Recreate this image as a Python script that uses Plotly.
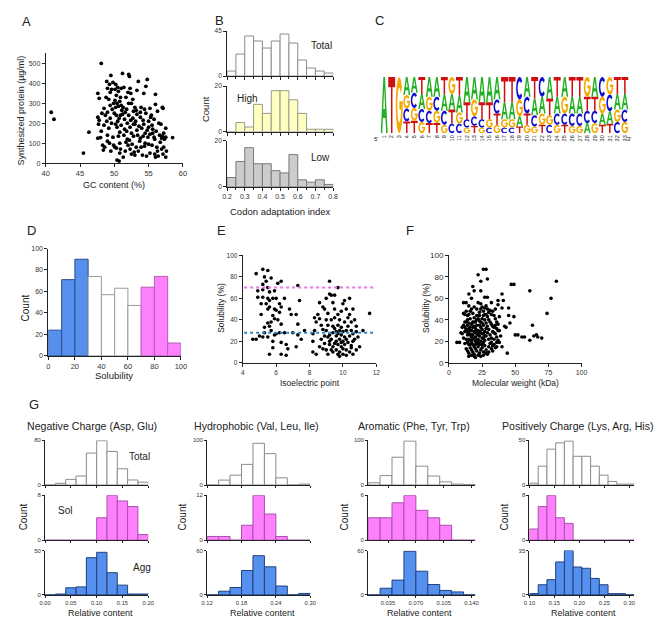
import numpy as np
import plotly.graph_objects as go

W, H = 662, 618
FONT = "Liberation Sans, Arial, sans-serif"

# ---------------- DATA ----------------
# Panel A: GC content (%) vs synthesized protein (ug/ml)
A_pts = [(40.8,255),(41.2,220),(45.5,50),(46.3,155),(48.1,500),
(49.5,440),(51.2,450),(52.1,445),(52.2,435),(54.8,420),(53.5,410),(54.6,385),(48.9,410),(49.8,405),(50.2,395),
(49.3,395),(50.5,380),(49,375),(49.6,370),(50.1,370),(51,375),(51.4,380),(52.3,375),(53.3,365),(50.6,360),
(49.4,355),(47.6,350),(52,355),(52.4,350),(54.3,350),(56,345),(48.8,330),(49.2,320),(47.8,325),(50.1,315),
(50.4,300),(50.8,310),(51,290),(50.6,285),(51.3,280),(50.2,280),(49.7,270),(48.5,275),(52.5,300),(53,280),
(52.8,260),(53.2,265),(51.8,270),(51.6,255),(53.9,280),(54.4,270),(55.2,275),(56,295),(57,280),(57.1,275),
(56.3,260),(48.2,250),(48.7,240),(49,255),(50,250),(50.3,240),(51.2,245),(52.1,240),(53.8,230),(54.6,250),
(55.3,230),(55.8,220),(47.6,230),(47.8,215),(48.9,210),(49.4,225),(50.7,225),(51.5,220),(52.4,215),(53.1,210),
(52.7,225),(54.2,215),(55,210),(47.7,195),(48.5,190),(49.6,200),(50.2,195),(51,190),(51.9,200),(53,195),
(53.6,185),(54.3,195),(55.5,190),(56.5,200),(56.8,195),(57.5,175),(49.2,175),(50.4,180),(51.5,170),(52.3,180),
(54,175),(54.8,165),(55.6,170),(56.1,160),(57.2,150),(50.8,155),(51.8,160),(52.5,150),(53.3,165),(54.5,150),
(55.2,145),(56.6,140),(57,135),(57.5,130),(58.5,128),(47.6,125),(48,128),(49,140),(49.8,130),(50.6,135),
(51.4,140),(52.8,135),(53.8,125),(54.2,135),(55.8,130),(56.9,125),(57.3,120),(48.3,90),(48.6,80),(49.3,100),
(49.9,90),(50.3,75),(50.8,100),(51.7,105),(52,90),(52.6,95),(53.2,80),(53.7,110),(54.5,100),(55,95),
(55.5,90),(56.2,80),(56.9,70),(57.2,80),(57.6,60),(48.4,65),(49.5,60),(50.1,80),(50.9,70),(51.6,60),
(52.3,70),(52.9,55),(53.5,60),(54.1,40),(54.7,35),(55.9,45),(56.4,35),(57.1,45),(57.5,30),(56.3,60),
(50.4,15),(50.7,10),(51.3,30),(52.5,45),(53,40),(55.2,50),(56,30),(51.9,120),(52.2,115),(53.4,140),
(50.5,210),(51.1,265),(49.9,300),(50.9,330),(52.7,320),(53.8,255),(55.4,240),(55.9,120),(56.7,105),(54.4,85),
(53.9,80),(50.8,50),(49,110),(48.1,160),(55,180),(54.9,130),(53.3,245),(52.1,300),(51.7,330),(50.3,340),
(49.4,290),(50.9,240),(52.8,195),(55.6,150)]
A_gc = [p[0] for p in A_pts]
A_protein = [p[1] for p in A_pts]

# Panel B: codon adaptation index histograms
B_edges = [0.20,0.25,0.30,0.35,0.40,0.45,0.50,0.55,0.60,0.65,0.70,0.75,0.80]
B_total = [5,22,40,35,28,35,42,33,16,8,5,3]
B_high  = [0,4,2,12,8,18,18,14,8,1,1,1]
B_low   = [4,11,17,10,10,7,6,14,3,2,3,1]

# Panel C: sequence logo, letter frequencies per position
C_positions = list(range(1, 34))
C_freq_A = [1,0,0,.32,.28,.27,.35,.35,.29,.28,.30,.45,.40,.45,.45,.40,.30,.30,.18,.35,.30,.30,.38,.30,.35,.30,.30,.18,.35,.20,.22,.28,.28]
C_freq_C = [0,0,0,.23,.27,.23,.22,.25,.25,.17,.17,.15,.17,.15,.10,.25,.10,.10,.40,.30,.20,.35,.15,.20,.20,.22,.22,.22,.22,.35,.30,.20,.22]
C_freq_G = [0,0,1,.24,.23,.20,.25,.22,.15,.30,.20,.10,.30,.10,.15,.15,.15,.15,.30,.15,.12,.20,.17,.15,.30,.13,.13,.35,.18,.30,.31,.22,.20]
C_freq_T = [0,1,0,.21,.22,.30,.18,.18,.31,.25,.33,.30,.13,.30,.30,.20,.45,.45,.12,.20,.38,.15,.30,.35,.15,.35,.35,.25,.25,.15,.17,.30,.30]

# Panel D: solubility histogram
D_edges = [0,10,20,30,40,50,60,70,80,90,100]
D_counts = [24,71,90,74,57,63,47,64,74,12]
D_group = ["agg","agg","agg","mid","mid","mid","mid","sol","sol","sol"]

# Panel E: isoelectric point vs solubility
E_pts = [(4.8,83),(5.2,87),(5.5,86),(5.3,80),(5.4,76),(5.2,73),(5.5,70),(5.7,79),(4.9,67),(5.2,68),(5.6,66),
(5.9,67),(6.3,76),(6.1,74),(4.9,61),(5.2,61),(5.5,60),(5.6,58),(5.8,60),(6.2,55),(5.1,45),(5.4,55),(5.5,50),
(5.6,52),(5.9,50),(6.0,49),(6.3,52),(5.8,44),(5.9,41),(5.7,38),(6.1,40),(5.5,37),(6.3,36),(5.6,34),(5.7,30),
(5.3,28),(5.0,25),(5.2,24),(4.6,22),(4.8,22),(5.9,26),(6.0,27),(6.2,28),(6.5,28),(5.5,24),(5.8,20),(6.3,19),
(5.8,14),(6.6,17),(5.6,8),(6.3,8),(6.6,7),(6.5,60),(6.8,50),(6.9,45),(7.3,72),(7.4,58),(7.2,45),(7.3,36),
(7.3,26),(7.5,22),(7.2,15),(7.0,28),(6.7,13),(7.7,30),(6.2,47),(5.3,33),(6.0,60),(5.1,55),
(8.2,20),(8.2,27),(8.4,38),(8.3,42),(8.5,45),(8.6,41),(8.7,35),(8.2,10),(8.4,8),(8.6,15),(8.8,13),(8.9,25),
(8.3,30),(8.6,56),(8.9,50),(9.0,60),(9.2,64),(9.3,63),(9.2,76),(9.4,56),(9.5,50),(9.1,46),(9.3,40),(9.5,42),
(9.7,45),(9.9,48),(10.0,55),(10.1,58),(10.2,50),(10.4,45),(10.6,50),(10.1,38),(9.7,35),(9.8,30),(9.0,30),
(9.1,35),(9.4,28),(9.6,25),(9.8,22),(10.0,20),(10.2,30),(10.4,25),(10.6,27),(10.7,22),(10.8,29),(9.2,20),
(9.4,15),(9.6,12),(9.8,10),(10.0,8),(10.2,12),(10.4,10),(10.5,16),(10.6,8),(9.0,12),(9.1,8),(8.9,18),
(9.3,22),(9.5,18),(9.7,17),(9.9,15),(10.1,17),(10.3,19),(10.5,14),(9.5,32),(9.9,33),(10.3,34),(10.5,38),
(9.2,26),(9.9,26),(10.1,24),(9.6,20),(9.7,8),(9.8,6),(10.2,7),(9.4,10),(10.0,13),(10.6,20),(10.8,34),
(11.2,30),(11.6,46),(10.4,60),(9.7,70),(9.5,63),(8.8,52),(9.0,40),(9.8,40),(10.3,42),(10.7,40),(9.3,12),
(9.9,19),(10.2,22),(10.0,29),(9.6,29),(9.1,24),(8.7,22),(10.9,24),(11.0,15),(10.8,12),(10.5,30),(9.4,34),
(9.7,27),(9.2,17),(8.8,31)]
E_pi = [p[0] for p in E_pts]
E_sol = [p[1] for p in E_pts]
E_sol_threshold = 70
E_agg_threshold = 28

# Panel F: molecular weight vs solubility
F_pts = [(6,19),(8,19),(26,87),(28,87),(22,82),(29,78),(24,76),(18,71),(19,67),(24,67),(47,73),(49,73),(61,67),
(81,76),(15,64),(17,60),(27,61),(29,61),(40,64),(37,58),(41,58),(77,60),(11,56),(13,56),(22,56),(24,55),
(32,56),(15,53),(37,54),(45,51),(35,50),(40,51),(74,46),(11,46),(27,45),(32,45),(45,44),(49,43),(46,37),
(42,34),(63,35),(50,26),(66,26),(70,23),(61,21),(64,25),(67,24),(44,9),(43,33),(38,19),(40,15),(52,26),
(55,24),(57,24),
(10,27),(12,29),(13,31),(14,26),(15,28),(16,30),(11,35),(12,38),(14,40),(15,37),(16,41),(17,36),(18,33),
(19,29),(20,32),(21,27),(22,30),(23,35),(24,38),(25,41),(26,44),(27,40),(28,37),(29,43),(30,47),(31,49),
(33,48),(34,44),(35,41),(36,38),(37,36),(38,43),(13,22),(14,19),(15,17),(16,21),(17,24),(18,26),(19,23),
(20,20),(21,18),(22,22),(23,25),(24,28),(25,23),(26,19),(27,21),(28,25),(29,28),(30,31),(31,26),(32,23),
(33,29),(34,33),(35,27),(36,24),(37,30),(13,13),(14,11),(15,9),(16,14),(17,12),(18,10),(19,8),(20,13),
(21,11),(22,15),(23,9),(24,12),(25,14),(26,10),(27,16),(28,12),(29,8),(30,15),(31,18),(32,13),(33,11),
(34,17),(35,14),(36,19),(37,21),(15,6),(17,7),(19,6),(20,5),(22,7),(24,6),(26,7),(28,9),(30,10),(11,23),
(12,18),(10,33),(9,28),(12,45),(13,48),(14,44),(16,48),(18,46),(19,42),(20,38),(21,44),(22,41),(23,47),
(24,50),(25,52),(26,48),(27,51),(28,53),(29,50),(30,40),(31,38),(32,36),(33,34),(34,28),(35,35),(36,32),
(20,24),(21,30),(22,26),(23,29),(24,33),(25,31),(26,35),(27,29),(28,32),(29,34),(16,26),(17,30),(18,38),
(19,34),(20,28),(21,35),(15,32),(14,35),(13,38),(12,33),(16,33),(17,19),(18,17),(19,15),(20,17),(21,21),
(22,19),(23,17),(24,20),(25,17),(26,23),(27,25),(16,17),(15,22),(18,22),(25,27),(26,27),(14,29),(17,26),
(19,38),(23,39),(21,40),(15,45),(17,50),(19,52),(21,50),(23,44),(25,37),(28,45),(30,22),(32,19),(34,22),
(38,30),(39,25),(36,15),(33,16)]
F_mw = [p[0] for p in F_pts]
F_sol = [p[1] for p in F_pts]

# Panel G: amino-acid content histograms (Total, Sol, Agg)
G_titles = ["Negative Charge (Asp, Glu)", "Hydrophobic (Val, Leu, Ile)",
            "Aromatic (Phe, Tyr, Trp)", "Positively Charge (Lys, Arg, His)"]
G_edges = [
    [0.00,0.02,0.04,0.06,0.08,0.10,0.12,0.14,0.16,0.18,0.20],
    [0.12,0.14,0.16,0.18,0.20,0.22,0.24,0.26,0.28,0.30],
    [0.010,0.025,0.040,0.055,0.070,0.085,0.100,0.115,0.130,0.145],
    [0.1000,0.1175,0.1350,0.1525,0.1700,0.1875,0.2050,0.2225,0.2400,0.2575,0.2750,0.2925,0.3100],
]
G_total = [[0,3,10,16,57,79,60,29,9,5],
           [0,11,22,46,93,70,16,0,2],
           [5,21,62,98,42,20,7,2,1],
           [2,21,40,47,49,32,32,21,11,4,1,1]]
G_sol = [[0,0,0,0,0,4,8,7,6,1],
         [1,1,0,4,12,7,1,0,0],
         [3,3,5,6,4,3,2,0,0],
         [2,6,8,4,3,0,0,0,0,0,0,0]]
G_agg = [[0,1,8,9,42,48,25,11,1,1],
         [0,5,10,33,53,38,12,0,2],
         [0,9,20,59,32,14,6,4,0],
         [1,8,12,26,35,22,21,13,8,1,1,0]]
G_xrange = [[0.0,0.2],[0.12,0.30],[0.010,0.145],[0.10,0.31]]
G_xticks = [[0.00,0.05,0.10,0.15,0.20],[0.12,0.18,0.24,0.30],[0.035,0.070,0.105,0.140],[0.10,0.15,0.20,0.25,0.30]]
G_xticktext = [["0.00","0.05","0.10","0.15","0.20"],["0.12","0.18","0.24","0.30"],
               ["0.035","0.070","0.105","0.140"],["0.10","0.15","0.20","0.25","0.30"]]
G_ymax = [[80,8,50],[100,12,60],[100,6,60],[50,8,35]]

# ---------------- HELPERS ----------------
fig = go.Figure()
layout = dict(width=W, height=H, margin=dict(l=0, r=0, t=0, b=0),
              paper_bgcolor="white", plot_bgcolor="white", showlegend=False,
              barmode="overlay", font=dict(family=FONT, color="#222"))
annotations = []
shapes = []

def dxp(a, b):
    return [a / W, b / W]

def dyp(top, bottom):
    return [1 - bottom / H, 1 - top / H]

def sfx(n):
    return "" if n == 1 else str(n)

def axes(n, xd, yd, xr, yr, xt, xtt, yt, ytt, xlab=True, ylab=True, xfs=7, yfs=7, xminor=None, tl=3):
    common = dict(showline=True, linecolor="#222", linewidth=1, ticks="outside", ticklen=tl,
                  tickwidth=1, tickcolor="#222", showgrid=False, zeroline=False, fixedrange=True)
    xa = dict(common, domain=dxp(*xd), range=xr, anchor="y" + sfx(n), tickmode="array",
              tickvals=xt, ticktext=xtt, showticklabels=xlab, tickfont=dict(size=xfs, family=FONT, color="#333"))
    if xminor:
        xa["minor"] = dict(ticks="outside", ticklen=2, dtick=xminor, tickcolor="#222")
    ya = dict(common, domain=dyp(*yd), range=yr, anchor="x" + sfx(n), tickmode="array",
              tickvals=yt, ticktext=ytt, showticklabels=ylab, tickfont=dict(size=yfs, family=FONT, color="#333"))
    layout["xaxis" + sfx(n)] = xa
    layout["yaxis" + sfx(n)] = ya

def ann(text, x, y, size, angle=0, xanchor="center", yanchor="middle", color="#222"):
    annotations.append(dict(text=text, x=x / W, y=1 - y / H, xref="paper", yref="paper",
                            showarrow=False, font=dict(size=size, family=FONT, color=color),
                            textangle=angle, xanchor=xanchor, yanchor=yanchor))

def bars(n, edges, counts, fill, edge):
    centers = [(edges[i] + edges[i + 1]) / 2 for i in range(len(counts))]
    widths = [edges[i + 1] - edges[i] for i in range(len(counts))]
    fig.add_trace(go.Bar(x=centers, y=counts, width=widths,
                         marker=dict(color=fill, line=dict(color=edge, width=1)),
                         xaxis="x" + sfx(n), yaxis="y" + sfx(n), hoverinfo="skip"))

def scatter(n, xs, ys, size=3.6):
    fig.add_trace(go.Scatter(x=xs, y=ys, mode="markers",
                             marker=dict(color="black", size=size, line=dict(width=0)),
                             xaxis="x" + sfx(n), yaxis="y" + sfx(n), hoverinfo="skip"))

# ---------------- PANEL A ----------------
axes(1, (32.3, 172), (41.7, 153.3), [40, 60], [0, 552],
     [40, 45, 50, 55, 60], ["40", "45", "50", "55", "60"],
     [0, 100, 200, 300, 400, 500], ["0", "100", "200", "300", "400", "500"], xfs=7.5, yfs=7)
scatter(1, A_gc, A_protein, 3.8)
ann("A", 13, 10, 13)
ann("Synthesized protein (µg/ml)", 7, 100, 9, angle=-90)
ann("GC content (%)", 102, 176, 9)

# ---------------- PANEL B ----------------
B_xt = [0.2, 0.3, 0.4, 0.5, 0.6, 0.7, 0.8]
B_xtt = ["0.2", "0.3", "0.4", "0.5", "0.6", "0.7", "0.8"]
axes(2, (217, 325), (19.3, 65), [0.2, 0.8], [0, 45], B_xt, B_xtt, [0, 45], ["0", "45"], xlab=False, yfs=6.5, xminor=0.05)
axes(3, (217, 325), (75.3, 121.3), [0.2, 0.8], [0, 20], B_xt, B_xtt, [0, 20], ["0", "20"], xlab=False, yfs=6.5, xminor=0.05)
axes(4, (217, 325), (130.7, 177.3), [0.2, 0.8], [0, 20], B_xt, B_xtt, [0, 20], ["0", "20"], xfs=7, yfs=6.5, xminor=0.05)
bars(2, B_edges, B_total, "white", "#8c8c8c")
bars(3, B_edges, B_high, "#ffffc2", "#9a9a8a")
bars(4, B_edges, B_low, "#cccccc", "#7a7a7a")
ann("B", 209, 9, 13)
ann("Total", 313, 34, 10)
ann("High", 238, 88, 10)
ann("Low", 312, 148, 10)
ann("Count", 195, 98, 9.5, angle=-90)
ann("Codon adaptation index", 271, 202, 9.5)

# ---------------- PANEL C (sequence logo) ----------------
def arc(rx, ry, a0, a1, npts):
    t = np.radians(np.linspace(a0, a1, npts))
    return [(0.5 + rx * np.cos(v), 0.5 + ry * np.sin(v)) for v in t]

GLYPHS = {
    "T": [[(0, 1), (1, 1), (1, 0.82), (0.61, 0.82), (0.61, 0), (0.39, 0), (0.39, 0.82), (0, 0.82)]],
    "A": [[(0, 0), (0.38, 1), (0.62, 1), (1, 0), (0.78, 0), (0.685, 0.27), (0.315, 0.27), (0.22, 0)],
          [(0.37, 0.43), (0.63, 0.43), (0.5, 0.80)]],
    "C": [arc(0.5, 0.5, 42, 318, 28) + arc(0.28, 0.31, 318, 42, 28)],
    "G": [arc(0.5, 0.5, 40, 360, 28) + [(1, 0.57), (0.52, 0.57), (0.52, 0.43)] + arc(0.28, 0.31, 343, 40, 26)],
}
COLORS = {"A": "#21b021", "C": "#1010cc", "G": "#f7a800", "T": "#d01010"}

layout["xaxis5"] = dict(domain=dxp(373.2, 626), range=[0.5, 33.5], anchor="y5", showline=False,
                        showgrid=False, zeroline=False, ticks="", tickmode="array",
                        tickvals=C_positions, ticktext=[str(p) for p in C_positions],
                        tickangle=-90, tickfont=dict(size=5.5, family=FONT, color="#222"), fixedrange=True)
layout["yaxis5"] = dict(domain=dyp(66, 123), range=[0, 1], anchor="x5", visible=False, fixedrange=True)
fig.add_trace(go.Scatter(x=[0.5, 33.5], y=[0, 0], mode="markers", marker=dict(size=0.1, color="white"),
                         xaxis="x5", yaxis="y5", hoverinfo="skip"))
for i, pos in enumerate(C_positions):
    freqs = {"A": C_freq_A[i], "C": C_freq_C[i], "G": C_freq_G[i], "T": C_freq_T[i]}
    tot = sum(freqs.values())
    order = sorted(freqs.items(), key=lambda kv: kv[1])  # smallest at bottom
    ybase = 0.0
    for letter, f in order:
        h = f / tot
        if h <= 0:
            continue
        x0, w = pos - 0.46, 0.92
        path = ""
        for poly in GLYPHS[letter]:
            path += "M" + " L".join(f"{x0 + u * w:.4f},{ybase + v * h:.4f}" for u, v in poly) + " Z "
        shapes.append(dict(type="path", path=path, xref="x5", yref="y5", fillcolor=COLORS[letter],
                           line=dict(width=0), layer="above"))
        ybase += h
ann("C", 372, 9, 13)
ann("5'", 369, 129, 6)
ann("3'", 626, 129, 6)

# ---------------- PANEL D ----------------
axes(6, (35, 170), (240, 349), [0, 100], [0, 100],
     [0, 20, 40, 60, 80, 100], ["0", "20", "40", "60", "80", "100"],
     [0, 20, 40, 60, 80, 100], ["0", "20", "40", "60", "80", "100"], xfs=7.5, yfs=7)
D_style = {"agg": ("#5690ee", "#2c4c88"), "mid": ("white", "#9a9a9a"), "sol": ("#ff80ff", "#b060b0")}
for g in ["agg", "mid", "sol"]:
    idx = [i for i, v in enumerate(D_group) if v == g]
    sub_edges_c = [(D_edges[i] + D_edges[i + 1]) / 2 for i in idx]
    fig.add_trace(go.Bar(x=sub_edges_c, y=[D_counts[i] for i in idx],
                         width=[D_edges[i + 1] - D_edges[i] for i in idx],
                         marker=dict(color=D_style[g][0], line=dict(color=D_style[g][1], width=1)),
                         xaxis="x6", yaxis="y6", hoverinfo="skip"))
ann("D", 18, 222, 13)
ann("Count", 12, 300, 10, angle=-90)
ann("Solubility", 102, 369, 9.5)

# ---------------- PANEL E ----------------
axes(7, (233, 369), (247, 356), [4, 12], [0, 100],
     [4, 6, 8, 10, 12], ["4", "6", "8", "10", "12"],
     [0, 20, 40, 60, 80, 100], ["0", "20", "40", "60", "80", "100"], xfs=6.5, yfs=6.5)
scatter(7, E_pi, E_sol, 3.6)
for val, col in [(E_sol_threshold, "#e878e8"), (E_agg_threshold, "#2f86c0")]:
    shapes.append(dict(type="line", xref="x7 domain", yref="y7", x0=0.01, x1=0.99, y0=val, y1=val,
                       line=dict(color=col, width=2, dash="dot"), layer="above"))
ann("E", 211, 222, 13)
ann("Solubility (%)", 210, 300, 8.5, angle=-90)
ann("Isoelectric point", 301, 376, 8.5)

# ---------------- PANEL F ----------------
axes(8, (443, 578), (247, 356), [0, 100], [0, 100],
     [0, 25, 50, 75, 100], ["0", "25", "50", "75", "100"],
     [0, 20, 40, 60, 80, 100], ["0", "20", "40", "60", "80", "100"], xfs=7, yfs=8)
scatter(8, F_mw, F_sol, 3.6)
ann("F", 403, 222, 13)
ann("Solubility (%)", 419, 300, 8.5, angle=-90)
ann("Molecular weight (kDa)", 511, 376, 8.5)

# ---------------- PANEL G ----------------
G_xdom = [(31.7, 136.7), (196.7, 301.7), (360.7, 470), (525, 631.7)]
G_ydom = [(434.5, 480), (490.5, 536), (546.5, 591.5)]
G_styles = [("white", "#8c8c8c"), ("#ff80ff", "#a850a8"), ("#5690ee", "#22407c")]
G_title_x = [79, 247, 407, 574]
G_count_x = [10, 172, 337, 500]
G_rc_x = [88, 253, 413, 580]
for c in range(4):
    rows = [G_total[c], G_sol[c], G_agg[c]]
    for r in range(3):
        n = 9 + c * 3 + r
        ym = G_ymax[c][r]
        axes(n, G_xdom[c], G_ydom[r], G_xrange[c], [0, ym], G_xticks[c], G_xticktext[c],
             [0, ym], ["0", str(ym)], xlab=(r == 2), xfs=5.8, yfs=6, tl=2)
        bars(n, G_edges[c], rows[r], G_styles[r][0], G_styles[r][1])
    ann(G_titles[c], G_title_x[c], 420, 10.6)
    ann("Count", G_count_x[c], 512, 10, angle=-90)
    ann("Relative content", G_rc_x[c], 609.5, 9)
ann("G", 20, 398, 13)
ann("Total", 128, 451, 10)
ann("Sol", 52, 506, 10)
ann("Agg", 130, 564, 10)

layout["annotations"] = annotations
layout["shapes"] = shapes
fig.update_layout(**layout)
fig.write_html("out.html")
